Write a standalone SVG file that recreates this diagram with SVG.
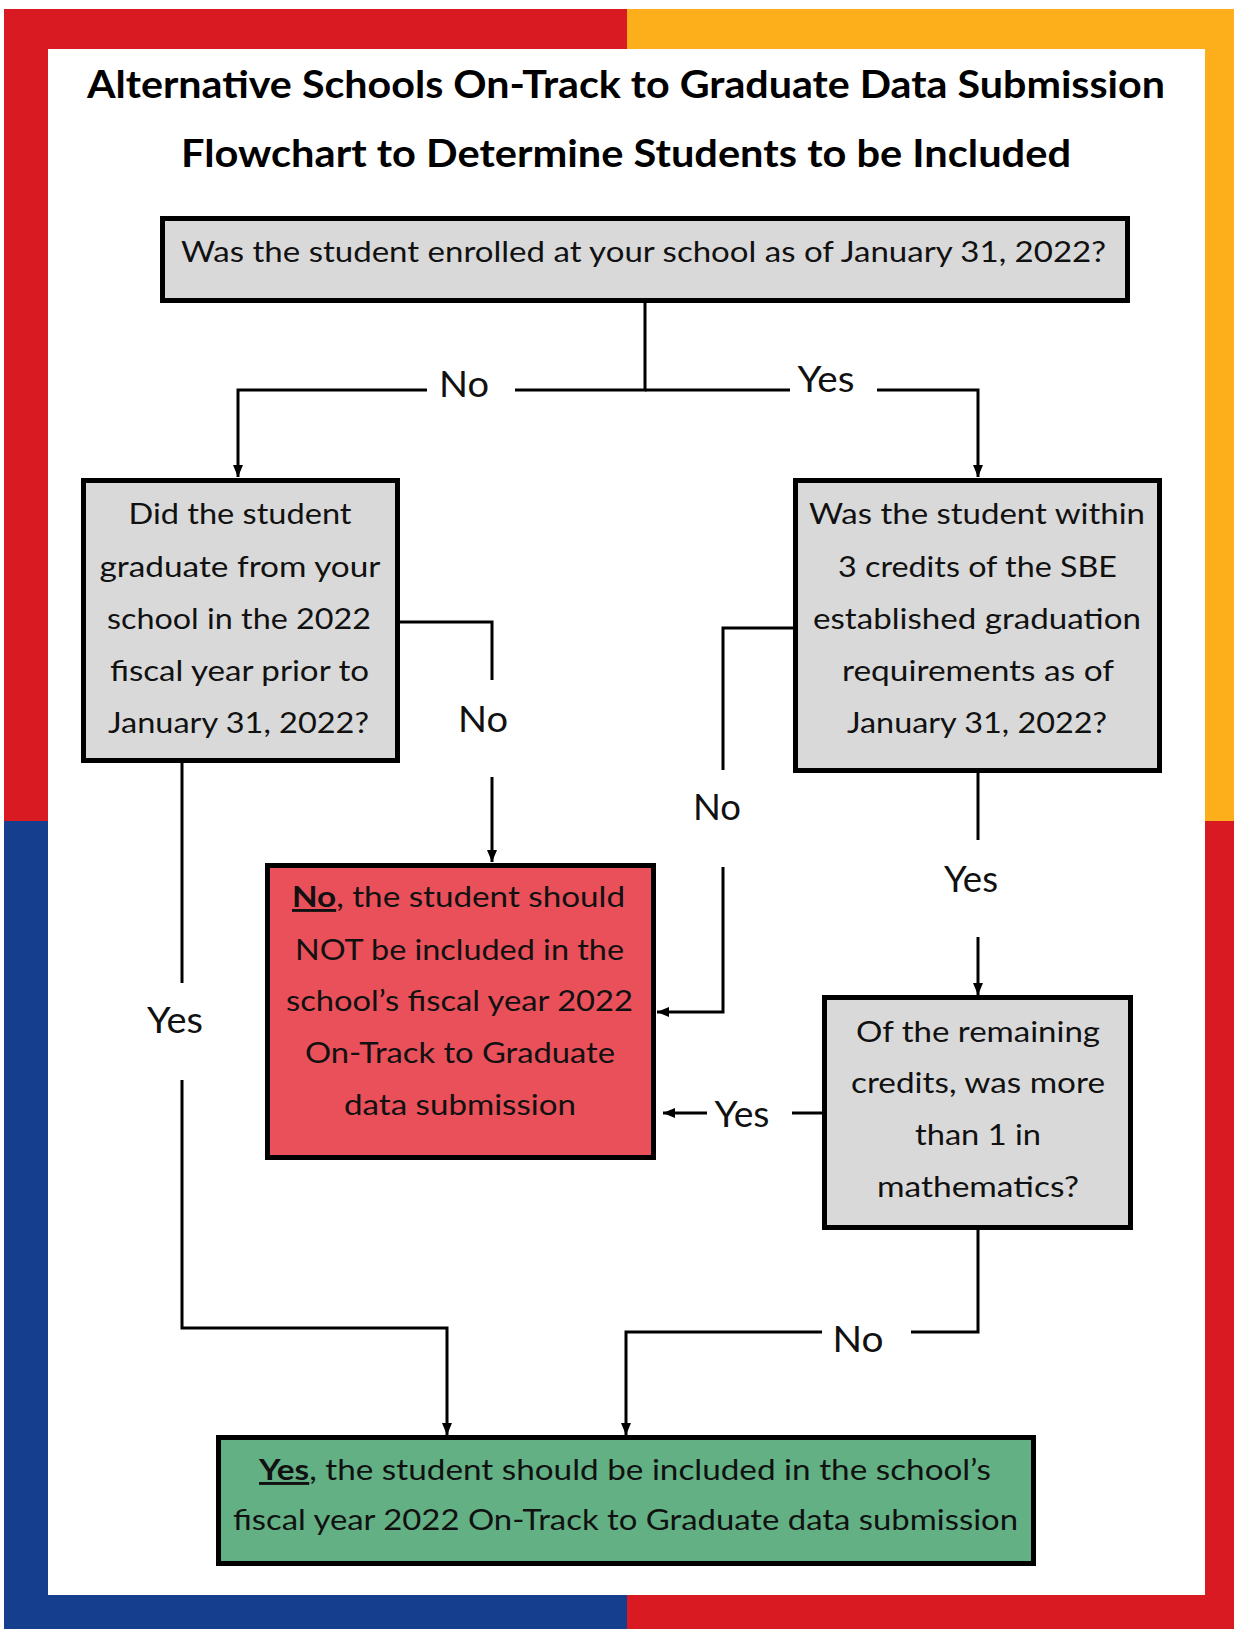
<svg xmlns="http://www.w3.org/2000/svg" width="1234" height="1629" viewBox="0 0 1234 1629">
<style>
.t{font-family:Lato,"Liberation Sans",sans-serif;fill:#111;text-anchor:middle}
.title{font-size:38px;font-weight:bold;fill:#000}
.node{font-size:29px}
.lbl{font-size:36px}
.box{stroke:#000;stroke-width:5}
.gray{fill:#d9d9d9}
.red{fill:#e9505a}
.green{fill:#62b084}
.c{fill:none;stroke:#000;stroke-width:3}
.u{font-weight:bold;text-decoration:underline}
</style>
<defs>
<marker id="ah" markerUnits="userSpaceOnUse" markerWidth="12" markerHeight="12" viewBox="0 0 12 12" refX="12" refY="6" orient="auto">
<path d="M0,1 L12,6 L0,11 Z" fill="#000"/>
</marker>
</defs>
<rect width="1234" height="1629" fill="#fff"/>
<g id="frame">
<rect x="4" y="9" width="623" height="812" fill="#d91a22"/>
<rect x="627" y="9" width="607" height="812" fill="#fcaf1a"/>
<rect x="4" y="821" width="623" height="808" fill="#163e8e"/>
<rect x="627" y="821" width="607" height="808" fill="#d91a22"/>
<rect x="48" y="49" width="1157" height="1546" fill="#fff"/>
</g>
<g id="title">
<text class="t title" x="626" y="98" textLength="1078" lengthAdjust="spacingAndGlyphs">Alternative Schools On-Track to Graduate Data Submission</text>
<text class="t title" x="626" y="167" textLength="890" lengthAdjust="spacingAndGlyphs">Flowchart to Determine Students to be Included</text>
</g>
<g id="connectors">
<path class="c" d="M645,301 V390 H515"/>
<path class="c" d="M427,390 H238 V477" marker-end="url(#ah)"/>
<path class="c" d="M645,390 H790"/>
<path class="c" d="M877,390 H978 V477" marker-end="url(#ah)"/>
<path class="c" d="M400,622 H492 V680"/>
<path class="c" d="M492,777 V862" marker-end="url(#ah)"/>
<path class="c" d="M793,628 H723 V770"/>
<path class="c" d="M723,867 V1012 H657" marker-end="url(#ah)"/>
<path class="c" d="M978,773 V840"/>
<path class="c" d="M978,937 V995" marker-end="url(#ah)"/>
<path class="c" d="M822,1113 H792"/>
<path class="c" d="M707,1113 H663" marker-end="url(#ah)"/>
<path class="c" d="M182,763 V983"/>
<path class="c" d="M182,1080 V1328 H447 V1435" marker-end="url(#ah)"/>
<path class="c" d="M978,1230 V1332 H911"/>
<path class="c" d="M822,1332 H626 V1435" marker-end="url(#ah)"/>
<text class="t lbl" x="464" y="397" textLength="50" lengthAdjust="spacingAndGlyphs">No</text>
<text class="t lbl" x="826" y="392" textLength="57" lengthAdjust="spacingAndGlyphs">Yes</text>
<text class="t lbl" x="483" y="732" textLength="50" lengthAdjust="spacingAndGlyphs">No</text>
<text class="t lbl" x="717" y="820" textLength="48" lengthAdjust="spacingAndGlyphs">No</text>
<text class="t lbl" x="971" y="892" textLength="54" lengthAdjust="spacingAndGlyphs">Yes</text>
<text class="t lbl" x="175" y="1033" textLength="56" lengthAdjust="spacingAndGlyphs">Yes</text>
<text class="t lbl" x="742" y="1127" textLength="55" lengthAdjust="spacingAndGlyphs">Yes</text>
<text class="t lbl" x="858" y="1352" textLength="51" lengthAdjust="spacingAndGlyphs">No</text>
</g>
<g id="n-enrolled">
<rect class="box gray" x="162.5" y="218.5" width="965" height="82"/>
<text class="t node" x="643.5" y="262" textLength="925" lengthAdjust="spacingAndGlyphs">Was the student enrolled at your school as of January 31, 2022?</text>
</g>
<g id="n-graduated">
<rect class="box gray" x="83.5" y="480.5" width="314" height="280"/>
<text class="t node" x="240" y="524" textLength="223" lengthAdjust="spacingAndGlyphs">Did the student</text>
<text class="t node" x="240" y="577" textLength="281" lengthAdjust="spacingAndGlyphs">graduate from your</text>
<text class="t node" x="239" y="629" textLength="264" lengthAdjust="spacingAndGlyphs">school in the 2022</text>
<text class="t node" x="239.5" y="681" textLength="259" lengthAdjust="spacingAndGlyphs">fiscal year prior to</text>
<text class="t node" x="238.5" y="733" textLength="261" lengthAdjust="spacingAndGlyphs">January 31, 2022?</text>
</g>
<g id="n-within3">
<rect class="box gray" x="795.5" y="480.5" width="364" height="290"/>
<text class="t node" x="977" y="524" textLength="336" lengthAdjust="spacingAndGlyphs">Was the student within</text>
<text class="t node" x="977.5" y="577" textLength="279" lengthAdjust="spacingAndGlyphs">3 credits of the SBE</text>
<text class="t node" x="977" y="629" textLength="328" lengthAdjust="spacingAndGlyphs">established graduation</text>
<text class="t node" x="978" y="681" textLength="272" lengthAdjust="spacingAndGlyphs">requirements as of</text>
<text class="t node" x="977" y="733" textLength="260" lengthAdjust="spacingAndGlyphs">January 31, 2022?</text>
</g>
<g id="n-exclude">
<rect class="box red" x="267.5" y="865.5" width="386" height="292"/>
<text class="t node" x="458.5" y="907" textLength="333" lengthAdjust="spacingAndGlyphs"><tspan class="u">No</tspan>, the student should</text>
<text class="t node" x="459.5" y="960" textLength="329" lengthAdjust="spacingAndGlyphs">NOT be included in the</text>
<text class="t node" x="459.5" y="1011" textLength="347" lengthAdjust="spacingAndGlyphs">school’s fiscal year 2022</text>
<text class="t node" x="460" y="1063" textLength="310" lengthAdjust="spacingAndGlyphs">On-Track to Graduate</text>
<text class="t node" x="460" y="1115" textLength="232" lengthAdjust="spacingAndGlyphs">data submission</text>
</g>
<g id="n-math">
<rect class="box gray" x="824.5" y="997.5" width="306" height="230"/>
<text class="t node" x="978" y="1042" textLength="244" lengthAdjust="spacingAndGlyphs">Of the remaining</text>
<text class="t node" x="978" y="1093" textLength="254" lengthAdjust="spacingAndGlyphs">credits, was more</text>
<text class="t node" x="978" y="1145" textLength="126" lengthAdjust="spacingAndGlyphs">than 1 in</text>
<text class="t node" x="978" y="1197" textLength="202" lengthAdjust="spacingAndGlyphs">mathematics?</text>
</g>
<g id="n-include">
<rect class="box green" x="218.5" y="1437.5" width="815" height="126"/>
<text class="t node" x="625" y="1480" textLength="732" lengthAdjust="spacingAndGlyphs"><tspan class="u">Yes</tspan>, the student should be included in the school’s</text>
<text class="t node" x="625.5" y="1530" textLength="785" lengthAdjust="spacingAndGlyphs">fiscal year 2022 On-Track to Graduate data submission</text>
</g>
</svg>
